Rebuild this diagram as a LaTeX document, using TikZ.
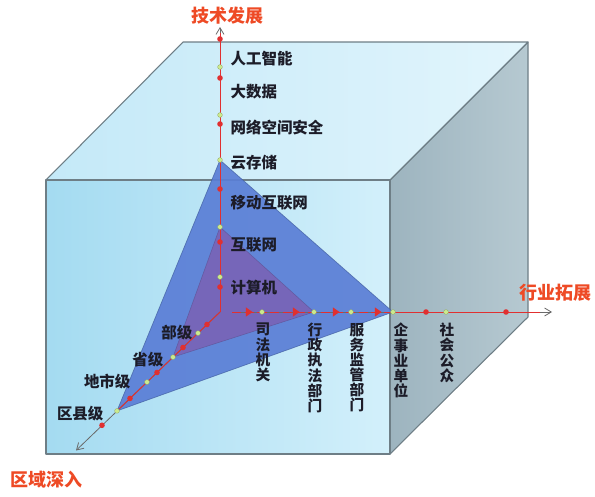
\documentclass[tikz,border=0pt]{standalone}
\usepackage{fontspec}
\newfontfamily\cjk{Noto Sans CJK SC}
\usetikzlibrary{arrows.meta,shapes.geometric}
\definecolor{edgegray}{HTML}{6E7E86}
\definecolor{frontL}{HTML}{A4DBF1}
\definecolor{frontR}{HTML}{D3F0FB}
\definecolor{topL}{HTML}{C4E9F8}
\definecolor{topR}{HTML}{E2F5FC}
\definecolor{sideL}{HTML}{9DB4BF}
\definecolor{sideR}{HTML}{B6C9D1}
\definecolor{bigtri}{HTML}{5A7ED6}
\definecolor{smalltri}{HTML}{7C5FB2}
\definecolor{trieedge}{HTML}{3E5A9C}
\definecolor{axred}{HTML}{E03030}
\definecolor{axgray}{HTML}{6A6A6A}
\definecolor{dotgreen}{HTML}{CBEA8E}
\definecolor{titlered}{HTML}{EE4A25}
\definecolor{labink}{HTML}{1C1C28}
\tikzset{
  face/.style={draw=edgegray, line width=0.8pt, line join=round},
  grayaxis/.style={draw=axgray, line width=0.6pt, -{Straight Barb[length=5pt,width=6pt]}},
  redaxis/.style={draw=axred, line width=0.7pt},
  gdot/.style={circle, fill=dotgreen, draw=dotgreen!70!black, line width=0.2pt, inner sep=0pt, minimum size=3.6pt},
  rdot/.style={circle, fill=axred, inner sep=0pt, minimum size=4.2pt},
  rarrow/.style={isosceles triangle, isosceles triangle apex angle=70, fill=axred, inner sep=0pt, minimum size=5pt, anchor=apex},
  lab/.style={font=\cjk\bfseries\fontsize{11.6}{13}\selectfont, text=labink, inner sep=1pt},
  vlab/.style={font=\cjk\bfseries\fontsize{11}{11.3}\selectfont, text=labink, align=center, inner sep=0pt, anchor=north},
  title/.style={font=\cjk\bfseries\fontsize{13.5}{15}\selectfont, text=titlered, inner sep=0pt}
}
\begin{document}
\begin{tikzpicture}[x=0.75pt,y=-0.75pt]
\useasboundingbox (0,0) rectangle (595,496);
% cube corners
\coordinate (F1) at (46,180);
\coordinate (F2) at (390,180);
\coordinate (F3) at (390,454);
\coordinate (F4) at (46,454);
\coordinate (B1) at (183,42);
\coordinate (B2) at (528,42);
\coordinate (B3) at (528,317);
% faces
\shade[left color=topL, right color=topR] (F1) -- (B1) -- (B2) -- (F2) -- cycle;
\shade[left color=sideL, right color=sideR] (F2) -- (B2) -- (B3) -- (F3) -- cycle;
\shade[left color=frontL, right color=frontR] (F1) -- (F2) -- (F3) -- (F4) -- cycle;
\draw[face] (F1) -- (B1) -- (B2) -- (F2) -- cycle;
\draw[face] (F2) -- (B2) -- (B3) -- (F3);
\draw[face] (F1) -- (F2) -- (F3) -- (F4) -- cycle;
% axes points
\coordinate (O) at (220,312);
\coordinate (vtip) at (220,27);
\coordinate (vtopred) at (220,33);
\coordinate (hstart) at (232,312);
\coordinate (htip) at (552,312);
\coordinate (hend) at (540,312);
\coordinate (dtip) at (76,450.5);
% triangles
\coordinate (T1) at (220,160);
\coordinate (T2) at (393,312);
\coordinate (T3) at (117,410.9);
\coordinate (S1) at (220,227);
\coordinate (S2) at (314,312);
\coordinate (S3) at (173,357.1);
\fill[bigtri, opacity=0.92] (T1) -- (T2) -- (T3) -- cycle;
\draw[trieedge, line width=0.5pt, opacity=0.7] (T1) -- (T2) -- (T3) -- cycle;
\fill[smalltri, opacity=0.8] (S1) -- (S2) -- (S3) -- cycle;
\draw[smalltri!70!black, line width=0.4pt, opacity=0.5] (S1) -- (S2) -- (S3) -- cycle;
% axes
\draw[grayaxis] (O) -- (vtip);
\draw[redaxis] (O) -- (vtopred);
\draw[grayaxis] (hstart) -- (htip);
\draw[redaxis, dash pattern=on 7pt off 2.5pt] (hstart) -- (T2);
\draw[redaxis] (T2) -- (hend);
\draw[grayaxis] (O) -- (dtip);
\draw[redaxis] (O) -- (T3);
% vertical axis markers
\foreach \n/\y in {1/39,2/78,3/124,4/189,5/242,6/287}
  \node[rdot] (vr\n) at (220,\y) {};
\foreach \n/\y in {1/67,2/115,3/160,4/227,5/277}
  \node[gdot] (vg\n) at (220,\y) {};
% depth axis markers
\foreach \n/\d in {1/13,2/37,3/63,4/90,5/118}
  \node[rdot] (dr\n) at ({220-\d},{312+0.96*\d}) {};
\foreach \n/\d in {1/22,2/47,3/73,4/103}
  \node[gdot] (dg\n) at ({220-\d},{312+0.96*\d}) {};
% horizontal axis markers
\foreach \n/\x in {1/253,2/300,3/340,4/382}
  \node[rarrow] (hr\n) at (\x,312) {};
\foreach \n/\x in {5/426,6/506}
  \node[rdot] (hr\n) at (\x,312) {};
\foreach \n/\x in {1/262,2/314,3/351,4/393,5/446}
  \node[gdot] (hg\n) at (\x,312) {};
% titles
\node[title] (tTech) at (227,16) {技术发展};
\node[title] (tInd) at (555,293) {行业拓展};
\node[title] (tReg) at (46,480) {区域深入};
% vertical axis labels
\node[lab, anchor=west] (a1) at (229,59) {人工智能};
\node[lab, anchor=west] (a2) at (229,92) {大数据};
\node[lab, anchor=west] (a3) at (229,128) {网络空间安全};
\node[lab, anchor=west] (a4) at (229,163) {云存储};
\node[lab, anchor=west] (a5) at (229,203) {移动互联网};
\node[lab, anchor=west] (a6) at (229,245) {互联网};
\node[lab, anchor=west] (a7) at (229,288) {计算机};
% depth axis labels
\node[lab, anchor=east] (b1) at (194,333) {部级};
\node[lab, anchor=east] (b2) at (165,360) {省级};
\node[lab, anchor=east] (b3) at (132,382) {地市级};
\node[lab, anchor=east] (b4) at (105,414) {区县级};
% industry labels
\node[vlab] (c1) at (263,323) {司\\法\\机\\关};
\node[vlab] (c2) at (315,323) {行\\政\\执\\法\\部\\门};
\node[vlab] (c3) at (357,323) {服\\务\\监\\管\\部\\门};
\node[vlab] (c4) at (401,323) {企\\事\\业\\单\\位};
\node[vlab] (c5) at (447,323) {社\\会\\公\\众};
\end{tikzpicture}
\end{document}
